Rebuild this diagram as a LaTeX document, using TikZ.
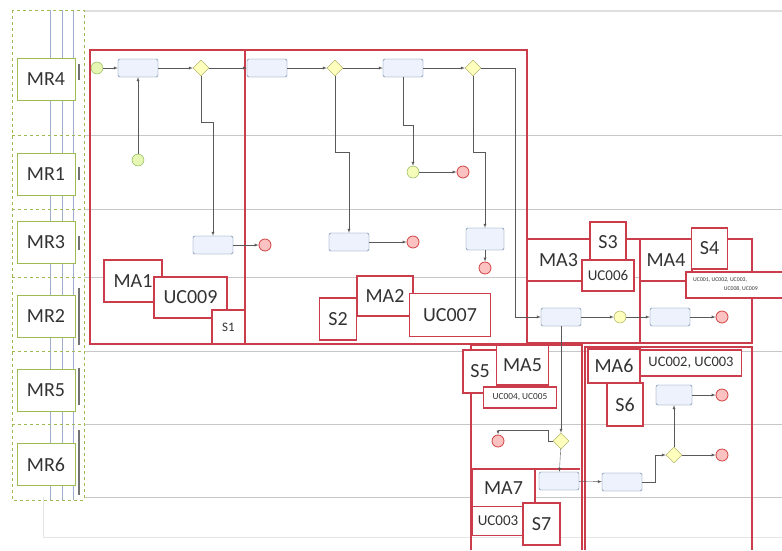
\documentclass[tikz,border=0pt]{standalone}
\usepackage{fontspec}
\setmainfont{Carlito}
\usetikzlibrary{positioning}
\usetikzlibrary{calc}
\usetikzlibrary{arrows}
\usetikzlibrary{shapes}
\definecolor{redline}{rgb}{0.80,0.24,0.30}
\definecolor{mrgreen}{rgb}{0.62,0.73,0.32}
\definecolor{laneline}{rgb}{0.78,0.78,0.78}
\definecolor{bluegray}{rgb}{0.62,0.68,0.80}
\definecolor{taskfill}{rgb}{0.93,0.95,0.99}
\definecolor{taskline}{rgb}{0.36,0.47,0.62}
\definecolor{gatefill}{rgb}{1.00,1.00,0.74}
\definecolor{gateline}{rgb}{0.62,0.64,0.30}
\definecolor{startfill}{rgb}{0.90,0.97,0.70}
\definecolor{startline}{rgb}{0.50,0.68,0.28}
\definecolor{stopfill}{rgb}{0.99,0.76,0.76}
\definecolor{stopline}{rgb}{0.82,0.26,0.26}
\definecolor{labeltext}{rgb}{0.20,0.20,0.20}

\begin{document}
\begin{tikzpicture}
    [x=1pt, y=-1pt,
    task/.style={rectangle, rounded corners=1.5pt, draw=taskline, fill=taskfill, minimum width=40pt, minimum height=18pt, inner sep=0pt},
    gate/.style={diamond, draw=gateline, fill=gatefill, minimum size=16pt, inner sep=0pt},
    start/.style={circle, draw=startline, fill=startfill, minimum size=12pt, inner sep=0pt},
    stop/.style={circle, draw=stopline, fill=stopfill, thick, minimum size=12pt, inner sep=0pt},
    flow/.style={->, >=latex, draw=black!65, thin},
    region/.style={draw=redline, line width=1.2pt},
    mr/.style={draw=mrgreen, thick, fill=white, minimum width=58pt, minimum height=42pt, text=labeltext, font=\fontsize{20}{20}\selectfont},
    tag/.style={draw=redline, line width=1.2pt, fill=white, inner sep=0pt, text=labeltext},
    big/.style={font=\fontsize{20}{20}\selectfont},
    mid/.style={font=\fontsize{15}{15}\selectfont}]
    \useasboundingbox (0,0) rectangle (782,550);
    \fill[white] (0,0) rectangle (782,550);
    % pool, lanes
    \draw[gray!25, line width=1.5pt] (84,11) -- (782,11);
    \foreach \y in {135,209,277,351,424,497}
        \draw[laneline] (84,\y) -- (782,\y);
    \draw[gray!20] (43,497) -- (43,537) -- (782,537);
    \foreach \x in {50,62,73}
        \draw[bluegray] (\x,10) -- (\x,500);
    \draw[mrgreen, thick, dashed] (12,10) rectangle (84,500);
    \foreach \y in {135,209,277,351,424}
        \draw[mrgreen, thick, dashed] (12,\y) -- (84,\y);
    \foreach \a/\b in {64/80,167/180,236/250,288/345,368/405,430/495}
        \draw[black!55, line width=1.2pt] (79,\a) -- (79,\b);
    \node[mr] (MR4) at (46,79)    {MR4};
    \node[mr] (MR1) at (46,174.5) {MR1};
    \node[mr] (MR3) at (46,242.5) {MR3};
    \node[mr] (MR2) at (46,316)   {MR2};
    \node[mr] (MR5) at (46,390)   {MR5};
    \node[mr] (MR6) at (46,464.5) {MR6};
    % red areas
    \draw[region] (90,50) rectangle (245,344);
    \draw[region] (245,50) rectangle (527,344);
    \draw[region] (527,239) rectangle (640,343);
    \draw[region] (640,239) rectangle (752,343);
    \draw[region] (471,550) -- (471,345) -- (582,345) -- (582,550);
    \draw[region] (585,550) -- (585,347) -- (752,347) -- (752,550);
    \draw[region] (472,469) -- (580,469);
    % process
    \node[start] (s1) at (97,68)   {};
    \node[task]  (t1) at (138,68)  {};
    \node[gate]  (g1) at (201,68)  {};
    \node[task]  (t2) at (267,68)  {};
    \node[gate]  (g2) at (335,68)  {};
    \node[task]  (t3) at (403,68)  {};
    \node[gate]  (g3) at (473,68)  {};
    \node[start] (e1) at (138,160) {};
    \node[start, fill=gatefill!60!startfill] (e2) at (413,172) {};
    \node[stop]  (x3) at (463,172) {};
    \node[task]  (t4) at (213,245) {};
    \node[stop]  (x1) at (265,245) {};
    \node[task]  (t5) at (349,242) {};
    \node[stop]  (x2) at (413,242) {};
    \node[task, minimum width=38pt, minimum height=22pt] (t6) at (485,239) {};
    \node[stop]  (x4) at (485,268) {};
    \node[task]  (t7) at (561,317) {};
    \node[start, fill=gatefill, draw=gateline] (e3) at (620,317) {};
    \node[task]  (t8) at (670,317) {};
    \node[stop]  (x5) at (722,317) {};
    \node[gate]  (g4) at (561,441) {};
    \node[stop]  (x6) at (498,441) {};
    \node[task]  (t9) at (559,481) {};
    \node[task]  (t10) at (622,482) {};
    \node[gate]  (g5) at (674,455) {};
    \node[stop]  (x7) at (722,455) {};
    \node[task, minimum width=36pt, minimum height=20pt] (t11) at (674,395) {};
    \node[stop]  (x8) at (722,395) {};
    \draw[flow] (s1) -- (t1);
    \draw[flow] (t1) -- (g1);
    \draw[flow] (g1) -- (t2);
    \draw[flow] (t2) -- (g2);
    \draw[flow] (g2) -- (t3);
    \draw[flow] (t3) -- (g3);
    \draw[flow] (e1) -- (t1);
    \draw[flow] (g1) -- (201,122) -| (t4);
    \draw[flow] (t4) -- (x1);
    \draw[flow] (g2) -- (335,152) -| (t5);
    \draw[flow] (t5) -- (x2);
    \draw[flow] (t3) -- (403,125) -| (e2);
    \draw[flow] (e2) -- (x3);
    \draw[flow] (g3) -- (473,152) -| (t6);
    \draw[flow] (t6) -- (x4);
    \draw[flow] (g3) -- (515,68) |- (t7);
    \draw[flow] (t7) -- (e3);
    \draw[flow] (e3) -- (t8);
    \draw[flow] (t8) -- (x5);
    \draw[flow] (t7) -- (g4);
    \draw[flow] (g4.west) -| (548,430) -| (x6);
    \draw[flow] (g4) -- (t9);
    \draw[flow] (t9) -- (t10);
    \draw[flow] (t10) -- (655,482) |- (g5);
    \draw[flow] (g5) -- (x7);
    \draw[flow] (g5) -- (t11);
    \draw[flow] (t11) -- (x8);
    % labels of the areas
    \node[tag, big, minimum width=58pt, minimum height=42pt] (MA1) at (133,281) {MA1};
    \node[tag, big, minimum width=73pt, minimum height=41pt] (UC009) at (190.5,297.5) {UC009};
    \node[tag, font=\fontsize{13}{13}\selectfont, minimum width=33pt, minimum height=34pt] (S1) at (228.5,327) {S1};
    \node[tag, big, minimum width=37pt, minimum height=42pt] (S2) at (338,319) {S2};
    \node[tag, big, minimum width=56pt, minimum height=40pt] (MA2) at (385,296) {MA2};
    \node[tag, big, minimum width=81pt, minimum height=43pt] (UC007) at (450,315) {UC007};
    \node[tag, big, minimum width=63pt, minimum height=42pt] (MA3) at (558.5,260) {MA3};
    \node[tag, big, minimum width=36pt, minimum height=40pt] (S3) at (608,242) {S3};
    \node[tag, mid, minimum width=52pt, minimum height=31pt] (UC006) at (608,275.5) {UC006};
    \node[tag, big, minimum width=52pt, minimum height=42pt] (MA4) at (666,260) {MA4};
    \node[tag, big, minimum width=36pt, minimum height=41pt] (S4) at (709.5,248.5) {S4};
    \node[tag, minimum width=104pt, minimum height=26pt] (UCA) at (738,285) {};
    \node[anchor=west, text=labeltext, font=\fontsize{5.8}{6}\selectfont, inner sep=0pt] (UCA1) at (693,280) {UC001, UC002, UC003,};
    \node[anchor=east, text=labeltext, font=\fontsize{5.8}{6}\selectfont, inner sep=0pt] (UCA2) at (758,289) {UC008, UC009};
    \node[tag, big, minimum width=34pt, minimum height=43pt] (S5) at (480,371.5) {S5};
    \node[tag, big, minimum width=52pt, minimum height=40pt] (MA5) at (522.5,365) {MA5};
    \node[tag, font=\fontsize{9.3}{10}\selectfont, minimum width=73pt, minimum height=21pt] (UCB) at (520,397.5) {UC004, UC005};
    \node[tag, big, minimum width=52pt, minimum height=34pt] (MA6) at (614,366) {MA6};
    \node[tag, font=\fontsize{14.5}{15}\selectfont, minimum width=101pt, minimum height=26pt] (UCC) at (691,363) {UC002, UC003};
    \node[tag, big, minimum width=36pt, minimum height=43pt] (S6) at (625,404.5) {S6};
    \node[tag, big, minimum width=63pt, minimum height=38pt] (MA7) at (503.5,488) {MA7};
    \node[tag, mid, minimum width=52pt, minimum height=29pt] (UC003) at (498,521) {UC003};
    \node[tag, big, minimum width=37pt, minimum height=42pt] (S7) at (541.5,524) {S7};
\end{tikzpicture}
\end{document}
